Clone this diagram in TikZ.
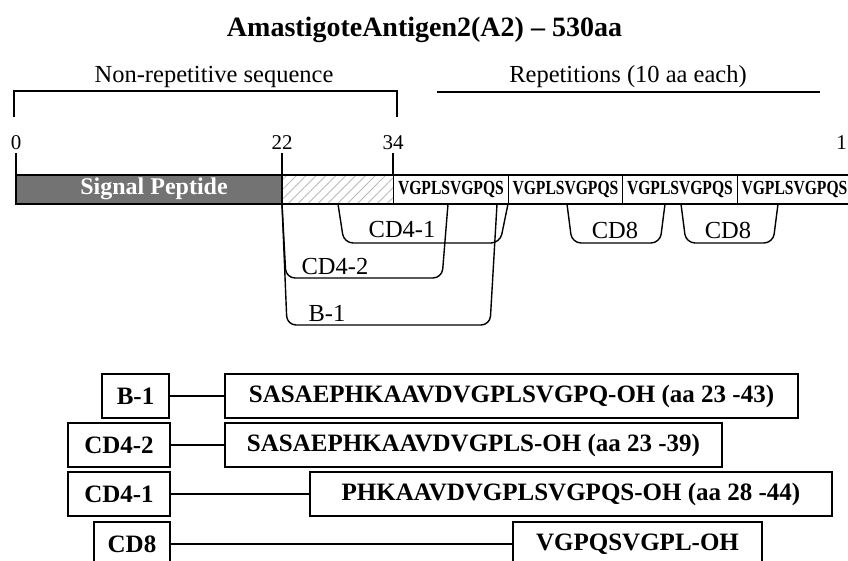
\documentclass[tikz,border=0pt]{standalone}
\usepackage{fontspec}
\setmainfont{Liberation Serif}
\newfontfamily\condfont[FakeStretch=0.78]{Liberation Serif}
\usetikzlibrary{patterns.meta}

\tikzset{
  lbl/.style={font=\fontsize{24.5}{26}\selectfont, inner sep=0pt, anchor=base},
  ticklbl/.style={font=\fontsize{21}{22}\selectfont, inner sep=0pt, anchor=base},
  repbox/.style={draw, line width=1.4pt, minimum width=114.5pt, minimum height=29pt, inner sep=0pt, anchor=west, font=\condfont\bfseries\fontsize{20}{21}\selectfont},
  pepbox/.style={draw, line width=1.6pt, inner sep=0pt, minimum height=44pt, font=\bfseries\fontsize{25}{26}\selectfont},
  epi/.style={line width=1.4pt, rounded corners=9pt},
  link/.style={line width=1.3pt},
}

\begin{document}
\begin{tikzpicture}[x=1pt, y=-1pt]
  \clip (0,0) rectangle (848,561);

  % title
  \node[font=\bfseries\fontsize{28}{30}\selectfont, inner sep=0pt, anchor=base] (title) at (424.5,37) {AmastigoteAntigen2(A2) -- 530aa};

  % regions above the bar
  \node[lbl] (nonrep) at (214,83) {Non-repetitive sequence};
  \draw[link] (14,117) -- (14,91) -- (397,91) -- (397,117);
  \node[lbl] (reps) at (628,83) {Repetitions (10 aa each)};
  \draw[link] (437,92) -- (820,92);

  % ticks
  \foreach \x/\t in {16/0, 282/22, 393/34} {
    \node[ticklbl] at (\x,150) {\t};
    \draw[link] (\x,153) -- (\x,175);
  }
  \node[ticklbl, anchor=base east] (end) at (847,150) {1};

  % the protein bar
  \fill[black!55] (16,175) rectangle (282,204);
  \fill[pattern={Lines[angle=45, distance=7pt, line width=0.9pt]}, pattern color=gray!55] (282,175) rectangle (393,204);
  \draw[line width=1.6pt] (16,175) rectangle (282,204);
  \draw[line width=1.6pt] (282,175) -- (393,175) (282,204) -- (393,204);
  \node[font=\bfseries\fontsize{24}{25}\selectfont, text=white, inner sep=0pt, anchor=base] (sp) at (154,195) {Signal Peptide};
  \foreach \x [count=\i] in {393,507.5,622,736.5} {
    \node[repbox] (rep\i) at (\x,189.5) {VGPLSVGPQS};
  }

  % epitopes under the bar
  \draw[epi] (282,204) -- (287,325) -- (490,325) -- (497,204);
  \draw[epi] (282,204) -- (286,278) -- (442,278) -- (448,204);
  \draw[epi] (338,204) -- (344,243) -- (500,243) -- (508,204);
  \draw[epi] (567,204) -- (572,243) -- (660,243) -- (665,204);
  \draw[epi] (681,204) -- (686,243) -- (773,243) -- (778,204);
  \node[lbl] (lb1) at (327,321) {B-1};
  \node[lbl] (lcd42) at (335,274) {CD4-2};
  \node[lbl] (lcd41) at (402,238) {CD4-1};
  \node[lbl] (lcd8a) at (615,239) {CD8};
  \node[lbl] (lcd8b) at (728,239) {CD8};

  % peptide list
  \node[pepbox, minimum width=67pt] (b1) at (135.5,396) {B-1};
  \node[pepbox, minimum width=573pt] (b1seq) at (511.5,396) {SASAEPHKAAVDVGPLSVGPQ-OH (aa 23 -43)};
  \node[pepbox, minimum width=102pt] (cd42) at (119,445) {CD4-2};
  \node[pepbox, minimum width=497pt] (cd42seq) at (473.5,445) {SASAEPHKAAVDVGPLS-OH (aa 23 -39)};
  \node[pepbox, minimum width=102pt] (cd41) at (119,494) {CD4-1};
  \node[pepbox, minimum width=522pt] (cd41seq) at (571,494) {PHKAAVDVGPLSVGPQS-OH (aa 28 -44)};
  \node[pepbox, minimum width=76pt] (cd8) at (132,544) {CD8};
  \node[pepbox, minimum width=249pt] (cd8seq) at (637.5,544) {VGPQSVGPL-OH};
  \draw[link] (b1) -- (b1seq);
  \draw[link] (cd42) -- (cd42seq);
  \draw[link] (cd41) -- (cd41seq);
  \draw[link] (cd8) -- (cd8seq);
\end{tikzpicture}
\end{document}
